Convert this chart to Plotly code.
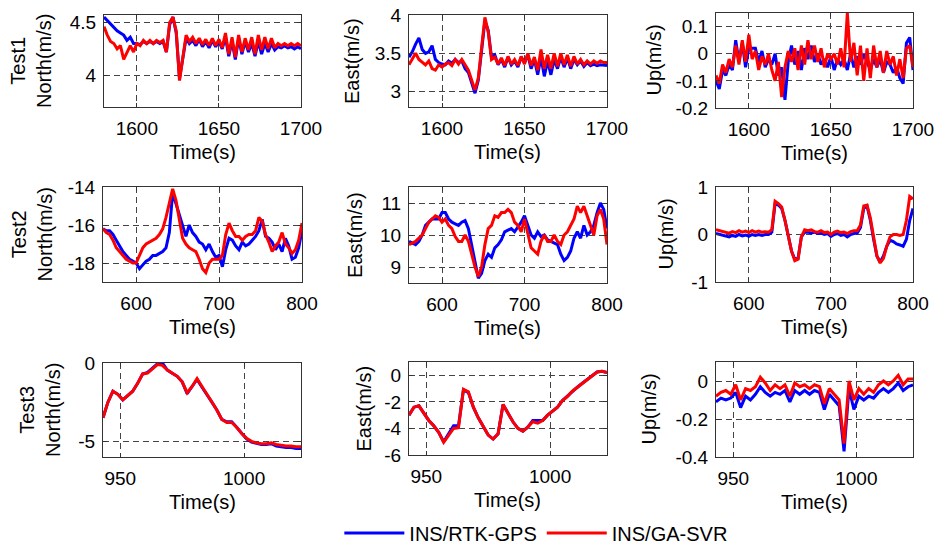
import plotly.graph_objects as go

W, H = 936, 547

# ---------------- Test1 (time grid, s) ----------------
t1 = [1580, 1582, 1584, 1586, 1588, 1590, 1592, 1594, 1596, 1598,
      1600, 1602, 1604, 1606, 1608, 1610, 1612, 1614, 1616, 1618,
      1620, 1622, 1624, 1626, 1628, 1630, 1632, 1634, 1636, 1638,
      1640, 1642, 1644, 1646, 1648, 1650, 1652, 1654, 1656, 1658,
      1660, 1662, 1664, 1666, 1668, 1670, 1672, 1674, 1676, 1678,
      1680, 1682, 1684, 1686, 1688, 1690, 1692, 1694, 1696, 1698, 1700]

north1_gps = [4.55, 4.52, 4.48, 4.45, 4.42, 4.40, 4.38, 4.33, 4.36, 4.30,
              4.30, 4.29, 4.32, 4.30, 4.32, 4.30, 4.32, 4.30, 4.32, 4.22,
              4.48, 4.55, 4.40, 3.97, 4.15, 4.35, 4.30, 4.33, 4.28, 4.34,
              4.27, 4.32, 4.26, 4.33, 4.27, 4.32, 4.25, 4.36, 4.18, 4.32,
              4.15, 4.35, 4.20, 4.32, 4.22, 4.30, 4.18, 4.32, 4.20, 4.30,
              4.22, 4.30, 4.24, 4.27, 4.26, 4.28, 4.26, 4.27, 4.25, 4.27, 4.25]
north1_svr = [4.46, 4.38, 4.32, 4.30, 4.25, 4.28, 4.15, 4.22, 4.28, 4.22,
              4.30, 4.28, 4.33, 4.30, 4.33, 4.30, 4.33, 4.31, 4.33, 4.22,
              4.50, 4.55, 4.42, 3.95, 4.18, 4.38, 4.32, 4.36, 4.30, 4.35,
              4.29, 4.34, 4.28, 4.35, 4.28, 4.34, 4.26, 4.40, 4.20, 4.36,
              4.17, 4.38, 4.22, 4.35, 4.24, 4.36, 4.20, 4.38, 4.24, 4.36,
              4.25, 4.35, 4.26, 4.30, 4.28, 4.30, 4.28, 4.30, 4.28, 4.30, 4.28]

east1_gps = [3.45, 3.52, 3.62, 3.70, 3.55, 3.50, 3.52, 3.60, 3.42, 3.38,
             3.36, 3.35, 3.40, 3.37, 3.42, 3.38, 3.40, 3.30, 3.25, 3.12,
             2.98, 3.15, 3.55, 3.92, 3.80, 3.45, 3.48, 3.35, 3.42, 3.32,
             3.45, 3.35, 3.40, 3.32, 3.45, 3.38, 3.48, 3.30, 3.42, 3.22,
             3.45, 3.20, 3.40, 3.22, 3.42, 3.30, 3.45, 3.32, 3.44, 3.30,
             3.42, 3.35, 3.40, 3.33, 3.38, 3.34, 3.36, 3.34, 3.35, 3.34, 3.34]
east1_svr = [3.35, 3.42, 3.50, 3.42, 3.38, 3.35, 3.40, 3.30, 3.28, 3.35,
             3.32, 3.36, 3.38, 3.34, 3.42, 3.36, 3.42, 3.34, 3.28, 3.15,
             3.02, 3.18, 3.60, 3.97, 3.78, 3.42, 3.45, 3.36, 3.44, 3.34,
             3.46, 3.36, 3.42, 3.34, 3.46, 3.36, 3.50, 3.34, 3.45, 3.28,
             3.55, 3.30, 3.48, 3.30, 3.50, 3.33, 3.50, 3.35, 3.48, 3.33,
             3.46, 3.36, 3.42, 3.35, 3.40, 3.36, 3.40, 3.37, 3.40, 3.38, 3.38]

up1_gps = [-0.10, -0.13, -0.06, -0.08, -0.04, -0.06, 0.05, -0.03, 0.04, -0.05,
           0.02, 0.02, 0.02, -0.03, 0.01, -0.05, -0.02, -0.04, 0.00, -0.08,
           -0.05, -0.17, -0.03, 0.03, -0.04, 0.01, -0.06, 0.02, -0.02, 0.03,
           -0.03, 0.00, -0.04, -0.02, -0.05, -0.01, -0.06, -0.02, -0.04, -0.02,
           -0.06, 0.00, -0.05, -0.01, -0.04, 0.00, -0.03, -0.06, -0.02, -0.05,
           -0.02, -0.07, -0.03, -0.04, -0.07, -0.05, -0.09, -0.11, 0.04, 0.06, -0.06]
up1_svr = [-0.08, -0.11, -0.04, -0.07, -0.02, -0.05, 0.03, -0.04, 0.05, -0.03,
           0.07, -0.02, 0.01, -0.06, -0.01, -0.04, 0.00, -0.06, -0.10, -0.03,
           -0.16, -0.05, 0.01, -0.03, 0.02, -0.06, 0.03, -0.04, 0.05, -0.02,
           0.03, -0.03, 0.02, -0.05, 0.00, -0.02, 0.00, -0.04, 0.02, -0.05,
           0.15, -0.03, 0.04, -0.08, 0.03, -0.10, 0.02, -0.09, 0.03, -0.05,
           0.01, -0.07, 0.01, -0.04, -0.01, -0.08, -0.02, -0.09, 0.02, 0.03, -0.05]

# ---------------- Test2 ----------------
t2 = [560, 564, 568, 572, 576, 580, 584, 588, 592, 596,
      600, 604, 608, 612, 616, 620, 624, 628, 632, 636,
      640, 644, 648, 652, 656, 660, 664, 668, 672, 676,
      680, 684, 688, 692, 696, 700, 704, 708, 712, 716,
      720, 724, 728, 732, 736, 740, 744, 748, 752, 756,
      760, 764, 768, 772, 776, 780, 784, 788, 792, 796, 800]

north2_gps = [-16.2, -16.3, -16.3, -16.5, -16.8, -17.1, -17.4, -17.6, -17.8, -17.9,
              -18.0, -18.3, -18.1, -17.9, -17.8, -17.6, -17.6, -17.5, -17.4, -17.2,
              -16.4, -14.3, -14.9, -15.5, -16.0, -16.6, -16.0, -16.4, -16.6, -16.9,
              -17.0, -17.3, -17.0, -17.4, -17.7, -17.6, -18.2, -17.3, -16.7, -16.8,
              -17.1, -17.3, -16.9, -17.1, -17.0, -16.8, -16.6, -16.3, -15.7, -16.6,
              -16.7, -16.9, -17.3, -17.0, -17.4, -16.7, -17.1, -17.8, -17.7, -17.2, -16.3]
north2_svr = [-16.2, -16.4, -16.5, -16.8, -17.2, -17.4, -17.6, -17.8, -17.9, -18.0,
              -18.0, -17.6, -17.2, -17.0, -16.9, -16.8, -16.7, -16.5, -16.2, -15.6,
              -14.9, -14.1, -14.7, -15.8, -16.7, -17.0, -17.2, -17.3, -17.4, -17.8,
              -18.3, -18.5, -18.0, -17.8, -17.8, -17.8, -17.6, -16.5, -15.9, -16.3,
              -16.6, -16.6, -16.8, -16.6, -16.5, -16.5, -16.3, -15.6, -15.8, -16.5,
              -16.9, -17.4, -17.1, -16.9, -16.4, -17.0, -17.2, -17.5, -17.3, -16.8, -15.9]

east2_gps = [9.8, 9.75, 9.7, 9.8, 10.0, 10.3, 10.4, 10.5, 10.5, 10.5,
             10.7, 10.7, 10.5, 10.4, 10.35, 10.3, 10.4, 10.45, 10.2, 9.7,
             9.2, 8.65, 8.8, 9.2, 9.4, 9.3, 9.6, 9.7, 9.85, 10.1,
             10.15, 10.2, 10.1, 10.25, 10.4, 10.6, 10.3, 10.0, 9.9, 10.1,
             9.95, 10.0, 9.85, 9.8, 9.75, 9.7, 9.4, 9.2, 9.3, 9.5,
             9.9, 10.1, 9.9, 10.3, 10.0, 10.1, 10.3, 10.7, 11.0, 10.8, 10.2]
east2_svr = [9.7, 9.75, 9.8, 9.9, 10.0, 10.2, 10.4, 10.5, 10.6, 10.55,
             10.4, 10.5, 10.3, 10.2, 9.95, 9.8, 9.8, 10.0, 9.8, 9.4,
             9.0, 8.7, 9.0, 9.7, 10.2, 10.3, 10.6, 10.55, 10.7, 10.7,
             10.8, 10.7, 10.4, 10.3, 10.1, 10.5, 10.0, 9.6, 9.5, 9.4,
             9.8, 10.0, 9.8, 9.8, 10.0, 9.8, 9.7, 10.0, 10.1, 10.3,
             10.5, 10.9, 10.7, 10.9, 10.6, 10.3, 10.0, 10.6, 10.8, 10.5, 9.7]

up2_gps = [0.02, 0.0, -0.02, -0.03, -0.05, -0.02, -0.04, 0.0, -0.03, -0.01,
           -0.04, 0.0, -0.02, 0.0, -0.02, 0.0, 0.0, 0.05, 0.65, 0.62,
           0.55, 0.3, -0.05, -0.35, -0.52, -0.5, -0.05, 0.05, 0.05, 0.03,
           0.05, 0.02, 0.03, 0.0, 0.02, -0.04, 0.0, 0.02, -0.02, 0.0,
           -0.05, 0.0, 0.02, 0.03, 0.15, 0.55, 0.6, 0.3, -0.1, -0.45,
           -0.58, -0.45, -0.25, -0.12, -0.15, -0.2, -0.22, -0.25, -0.1, 0.3, 0.55]
up2_svr = [0.1, 0.08, 0.06, 0.05, 0.03, 0.06, 0.04, 0.08, 0.05, 0.07,
           0.04, 0.08, 0.05, 0.07, 0.05, 0.06, 0.05, 0.1, 0.7, 0.65,
           0.58, 0.3, 0.0, -0.35, -0.55, -0.52, -0.05, 0.1, 0.08, 0.1,
           0.06, 0.05, 0.08, 0.04, 0.05, 0.0, 0.05, 0.07, 0.04, 0.05,
           0.02, 0.06, 0.08, 0.08, 0.2, 0.6, 0.62, 0.35, -0.05, -0.45,
           -0.6, -0.5, -0.25, -0.05, 0.0, 0.0, -0.02, 0.0, 0.3, 0.8, 0.75]

# ---------------- Test3 ----------------
t3 = [943, 945, 947, 949, 951, 953, 955, 957, 959, 961,
      963, 965, 967, 969, 971, 973, 975, 977, 979, 981,
      983, 985, 987, 989, 991, 993, 995, 997, 999, 1001,
      1003, 1005, 1007, 1009, 1011, 1013, 1015, 1017, 1019, 1021, 1023]

north3_gps = [-3.5, -2.5, -1.8, -2.0, -2.35, -2.1, -1.8, -1.3, -0.7, -0.6,
              -0.35, -0.05, 0.0, -0.45, -0.65, -0.85, -1.2, -1.95, -1.5, -1.05,
              -1.55, -2.0, -2.5, -3.0, -3.6, -3.75, -3.75, -4.1, -4.5, -4.85,
              -5.05, -5.15, -5.2, -5.2, -5.15, -5.3, -5.35, -5.4, -5.4, -5.45, -5.45]
north3_svr = [-3.5, -2.5, -1.8, -2.0, -2.35, -2.1, -1.8, -1.3, -0.7, -0.65,
              -0.4, -0.1, -0.15, -0.45, -0.65, -0.85, -1.2, -1.9, -1.5, -1.0,
              -1.5, -2.0, -2.5, -3.0, -3.6, -3.8, -3.8, -4.1, -4.5, -4.8,
              -5.0, -5.1, -5.15, -5.15, -5.1, -5.2, -5.25, -5.3, -5.3, -5.35, -5.35]

east3_gps = [-3.0, -2.4, -2.3, -2.9, -3.4, -3.8, -4.3, -5.0, -4.4, -3.8,
             -3.8, -1.1, -1.3, -2.4, -3.2, -3.9, -4.5, -4.8, -4.4, -2.2,
             -2.9, -3.5, -4.0, -4.2, -3.9, -3.4, -3.4, -3.4, -3.0, -2.7,
             -2.4, -1.9, -1.55, -1.2, -0.9, -0.6, -0.3, 0.0, 0.25, 0.3, 0.2]
east3_svr = [-3.0, -2.4, -2.3, -2.9, -3.4, -3.8, -4.3, -5.05, -4.5, -4.0,
             -3.95, -1.05, -1.25, -2.4, -3.2, -3.9, -4.5, -4.8, -4.4, -2.2,
             -2.9, -3.5, -4.0, -4.2, -3.9, -3.5, -3.6, -3.4, -3.0, -2.7,
             -2.4, -1.9, -1.6, -1.2, -0.9, -0.6, -0.3, 0.0, 0.25, 0.3, 0.2]

up3_gps = [-0.11, -0.09, -0.10, -0.09, -0.06, -0.14, -0.08, -0.10, -0.07, -0.03,
           -0.06, -0.08, -0.06, -0.07, -0.05, -0.11, -0.05, -0.07, -0.05, -0.07,
           -0.05, -0.06, -0.15, -0.07, -0.10, -0.13, -0.37, -0.04, -0.15, -0.08,
           -0.10, -0.08, -0.09, -0.06, -0.04, -0.06, -0.04, -0.01, -0.05, -0.03, -0.02]
up3_svr = [-0.08, -0.06, -0.05, -0.07, -0.02, -0.10, -0.04, -0.05, -0.03, 0.02,
           -0.01, -0.05, -0.02, -0.04, -0.02, -0.08, -0.01, -0.03, -0.02, -0.04,
           -0.02, -0.03, -0.12, -0.04, -0.07, -0.10, -0.33, 0.00, -0.10, -0.04,
           -0.07, -0.04, -0.06, -0.02, 0.00, -0.02, 0.00, 0.03, -0.02, 0.01, 0.01]

# ---------------- tick labels ----------------
xtick1 = [1600, 1650, 1700]
xtick2 = [600, 700, 800]
xtick3 = [950, 1000]
ytick_n1 = [4, 4.5];          ylab_n1 = ["4", "4.5"]
ytick_e1 = [3, 3.5, 4];       ylab_e1 = ["3", "3.5", "4"]
ytick_u1 = [-0.2, -0.1, 0, 0.1]; ylab_u1 = ["-0.2", "-0.1", "0", "0.1"]
ytick_n2 = [-18, -16, -14];   ylab_n2 = ["-18", "-16", "-14"]
ytick_e2 = [9, 10, 11];       ylab_e2 = ["9", "10", "11"]
ytick_u2 = [-1, 0, 1];        ylab_u2 = ["-1", "0", "1"]
ytick_n3 = [-5, 0];           ylab_n3 = ["-5", "0"]
ytick_e3 = [-6, -4, -2, 0];   ylab_e3 = ["-6", "-4", "-2", "0"]
ytick_u3 = [-0.4, -0.2, 0];   ylab_u3 = ["-0.4", "-0.2", "0"]

series_names = ["INS/RTK-GPS", "INS/GA-SVR"]
row_names = ["Test1", "Test2", "Test3"]
col_names = ["North(m/s)", "East(m/s)", "Up(m/s)"]

panels = [
    dict(t=t1, b=north1_gps, r=north1_svr, xr=[1580, 1700], yr=[3.7, 4.57], xt=xtick1, yt=ytick_n1, yl=ylab_n1,
         box=(104, 301, 15, 107), ytx=31),
    dict(t=t1, b=east1_gps, r=east1_svr, xr=[1580, 1700], yr=[2.8, 4.0], xt=xtick1, yt=ytick_e1, yl=ylab_e1,
         box=(409, 607, 15, 107), ytx=352),
    dict(t=t1, b=up1_gps, r=up1_svr, xr=[1580, 1700], yr=[-0.2, 0.15], xt=xtick1, yt=ytick_u1, yl=ylab_u1,
         box=(716, 913, 13, 108), ytx=653),
    dict(t=t2, b=north2_gps, r=north2_svr, xr=[560, 800], yr=[-19, -14], xt=xtick2, yt=ytick_n2, yl=ylab_n2,
         box=(103, 302, 187, 282), ytx=31),
    dict(t=t2, b=east2_gps, r=east2_svr, xr=[560, 800], yr=[8.5, 11.5], xt=xtick2, yt=ytick_e2, yl=ylab_e2,
         box=(409, 607, 187, 283), ytx=355),
    dict(t=t2, b=up2_gps, r=up2_svr, xr=[560, 800], yr=[-1, 1], xt=xtick2, yt=ytick_u2, yl=ylab_u2,
         box=(716, 913, 187, 282), ytx=665),
    dict(t=t3, b=north3_gps, r=north3_svr, xr=[943, 1023], yr=[-6, 0], xt=xtick3, yt=ytick_n3, yl=ylab_n3,
         box=(103, 301, 363, 457), ytx=40),
    dict(t=t3, b=east3_gps, r=east3_svr, xr=[943, 1023], yr=[-6, 1], xt=xtick3, yt=ytick_e3, yl=ylab_e3,
         box=(409, 607, 362, 455), ytx=363),
    dict(t=t3, b=up3_gps, r=up3_svr, xr=[943, 1023], yr=[-0.4, 0.1], xt=xtick3, yt=ytick_u3, yl=ylab_u3,
         box=(716, 913, 362, 457), ytx=648),
]

FONT = "Liberation Sans, Arial, Helvetica, sans-serif"
TICK_SIZE = 19
TITLE_SIZE = 20
BLUE = "#0000FF"
RED = "#FF0000"

fig = go.Figure()
layout = dict(
    width=W, height=H,
    margin=dict(l=0, r=0, t=0, b=0, autoexpand=False),
    paper_bgcolor="white", plot_bgcolor="white",
    font=dict(family=FONT, size=TICK_SIZE, color="black"),
    showlegend=True,
    legend=dict(orientation="h", x=0.573, y=1 - 533 / H, xanchor="center", yanchor="middle",
                font=dict(family=FONT, size=TITLE_SIZE, color="black"),
                bgcolor="rgba(0,0,0,0)", itemwidth=60, tracegroupgap=0),
)
annotations = []

for i, p in enumerate(panels):
    n = i + 1
    xa = "x" if n == 1 else f"x{n}"
    ya = "y" if n == 1 else f"y{n}"
    for vals, color, name in ((p["b"], BLUE, series_names[0]), (p["r"], RED, series_names[1])):
        fig.add_trace(go.Scatter(
            x=p["t"], y=vals, mode="lines", name=name,
            line=dict(color=color, width=3),
            xaxis=xa, yaxis=ya, showlegend=(n == 1), legendgroup=name,
        ))
    x0, x1, y0, y1 = p["box"]
    common = dict(
        showline=True, mirror="ticks", linecolor="#333333", linewidth=1,
        ticks="inside", ticklen=4, tickcolor="#333333",
        showgrid=True, gridcolor="#444444", gridwidth=1, griddash="6px,4px",
        zeroline=False, automargin=False,
        tickfont=dict(family=FONT, size=TICK_SIZE, color="black"),
    )
    layout["xaxis" if n == 1 else f"xaxis{n}"] = dict(
        domain=[x0 / W, x1 / W], range=p["xr"], anchor=ya,
        tickvals=p["xt"], ticktext=[str(v) for v in p["xt"]], ticklabelstandoff=4, **common)
    layout["yaxis" if n == 1 else f"yaxis{n}"] = dict(
        domain=[1 - y1 / H, 1 - y0 / H], range=p["yr"], anchor=xa,
        tickvals=p["yt"], ticktext=p["yl"], ticklabelstandoff=3, **common)
    # x-axis title
    annotations.append(dict(
        text="Time(s)", x=(x0 + x1) / 2 / W, y=1 - (y1 + 45) / H, xref="paper", yref="paper",
        xanchor="center", yanchor="middle", showarrow=False,
        font=dict(family=FONT, size=TITLE_SIZE, color="black")))
    # y-axis title
    col = i % 3
    row = i // 3
    ytxt = col_names[col] if col > 0 else f"{row_names[row]}<br>{col_names[col]}"
    annotations.append(dict(
        text=ytxt, textangle=-90, x=p["ytx"] / W, y=1 - (y0 + y1) / 2 / H, xref="paper", yref="paper",
        xanchor="center", yanchor="middle", showarrow=False,
        font=dict(family=FONT, size=TITLE_SIZE, color="black")))

layout["annotations"] = annotations
fig.update_layout(**layout)
fig.write_html("out.html",
               config={"displayModeBar": False},
               post_script="document.body.style.margin='0px';document.body.style.overflow='hidden';")
